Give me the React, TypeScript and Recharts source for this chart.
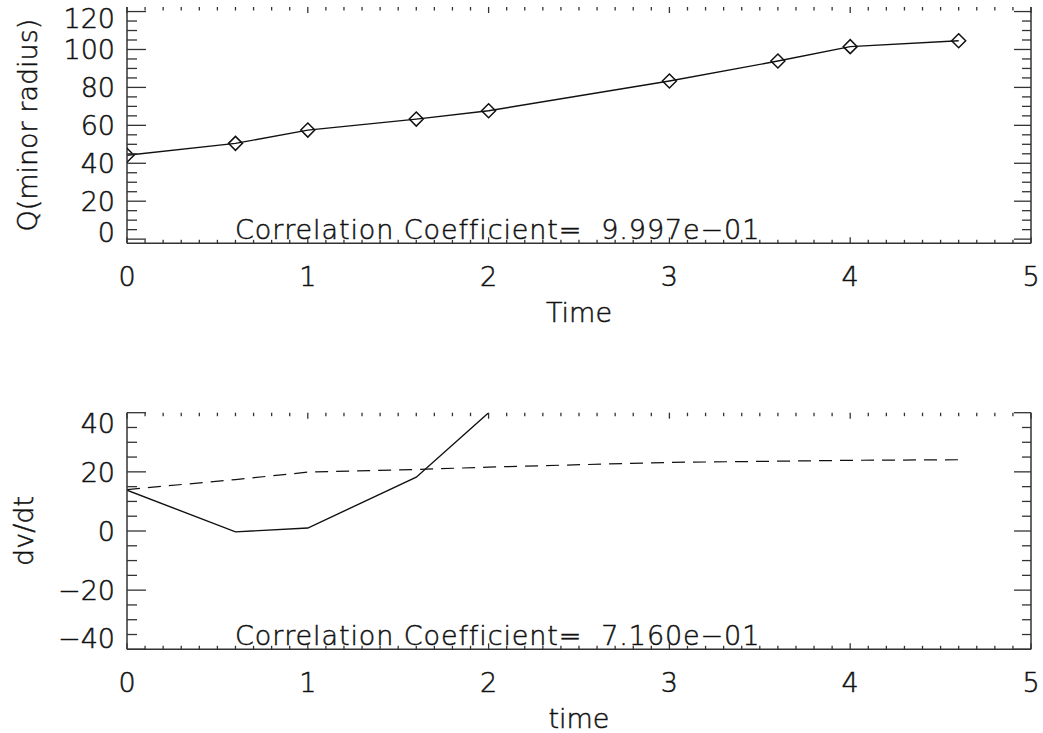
import { LineChart, Line, XAxis, YAxis } from 'recharts';

// sample times and the fitted minor-radius Q
const time = [0, 0.6, 1.0, 1.6, 2.0, 3.0, 3.6, 4.0, 4.6];
const qMinor = [44.2, 50.5, 57.5, 63.3, 67.7, 83.4, 93.9, 101.5, 104.6];
// dv/dt from finite differences (only the part that stays in range) and the smooth fit
const dvdt = [13.8, -0.3, 1.0, 18.2, 40];
const dvdtFit = [14.0, 17.4, 19.9, 20.8, 21.6, 23.2, 23.6, 23.9, 24.1];

const xTicks = Array.from({ length: 51 }, (_, i) => i / 10);
const qTicks = Array.from({ length: 25 }, (_, i) => i * 5);
const dvTicks = Array.from({ length: 17 }, (_, i) => -40 + i * 5);

const corrTop = 'Correlation Coefficient=  9.997e\u221201';
const corrBottom = 'Correlation Coefficient=  7.160e\u221201';

const W = 1043;
const LEFT = 127;
const RIGHT = 12;
const INK = '#111';
const AXIS = '#333';
const FONT = '"DejaVu Sans", sans-serif';
const FS = 27;

const rows = time.map((t, i) => ({
  t,
  q: qMinor[i],
  fit: dvdtFit[i],
  dv: i < dvdt.length ? dvdt[i] : null,
}));

const isMajor = (v: number, step: number) => Math.abs(v / step - Math.round(v / step)) < 1e-6;
const fmt = (v: number) => (v < 0 ? '\u2212' + Math.abs(v) : String(Math.round(v)));

const textStyle = {
  fontFamily: FONT,
  fontSize: FS,
  fontWeight: 200,
  fill: INK,
  stroke: INK,
  strokeWidth: 0.5,
} as const;

// bottom axis tick, with its twin on the top edge of the frame
function xTick(top: number) {
  return (p: any) => {
    const v = p.payload.value;
    const major = isMajor(v, 1);
    const len = major ? 6 : 3.5;
    return (
      <g key={`x-${v}`}>
        <line x1={p.x} x2={p.x} y1={p.y} y2={p.y - len} stroke={AXIS} strokeWidth={1.3} />
        <line x1={p.x} x2={p.x} y1={top} y2={top + len} stroke={AXIS} strokeWidth={1.3} />
        {major && (
          <text x={p.x} y={p.y + 43} textAnchor="middle" style={textStyle}>
            {fmt(v)}
          </text>
        )}
      </g>
    );
  };
}

// left axis tick, with its twin on the right edge of the frame
function yTick(top: number, bottom: number) {
  return (p: any) => {
    const v = p.payload.value;
    const major = isMajor(v, 20);
    const rx = W - RIGHT;
    // keep edge labels inside the frame
    const ly = Math.min(Math.max(p.y, top + 11), bottom - 11);
    return (
      <g key={`y-${v}`}>
        <line x1={p.x} x2={p.x + (major ? 19 : 10)} y1={p.y} y2={p.y} stroke={AXIS} strokeWidth={1.3} />
        <line x1={rx} x2={rx - (major ? 17 : 9)} y1={p.y} y2={p.y} stroke={AXIS} strokeWidth={1.3} />
        {major && (
          <text x={p.x - 12} y={ly} dy="0.36em" textAnchor="end" style={textStyle}>
            {fmt(v)}
          </text>
        )}
      </g>
    );
  };
}

const diamond = (p: any) => {
  const { cx, cy, index } = p;
  if (cx == null || cy == null) return <g key={index} />;
  const r = 7;
  return (
    <path
      key={index}
      d={`M${cx},${cy - r}L${cx + r},${cy}L${cx},${cy + r}L${cx - r},${cy}Z`}
      fill="none"
      stroke={INK}
      strokeWidth={1.5}
    />
  );
};

function xTitle(title: string, corr: string) {
  return ({ viewBox }: any) => (
    <g>
      <text x={viewBox.x + viewBox.width / 2} y={viewBox.y + 79} textAnchor="middle" style={textStyle}>
        {title}
      </text>
      <text x={235} y={viewBox.y - 4} style={{ ...textStyle, whiteSpace: 'pre', letterSpacing: 0.9 }}>
        {corr}
      </text>
    </g>
  );
}

function yTitle(title: string, baseX: number) {
  return ({ viewBox }: any) => {
    const cy = viewBox.y + viewBox.height / 2;
    return (
      <text
        transform={`translate(${baseX},${cy}) rotate(-90)`}
        textAnchor="middle"
        style={textStyle}
      >
        {title}
      </text>
    );
  };
}

function Panel(props: {
  height: number;
  top: number;
  bottomAxis: number;
  domain: [number, number];
  yTicks: number[];
  yLabel: string;
  yLabelX: number;
  xLabel: string;
  corr: string;
  children: any;
}) {
  const { height, top, bottomAxis, domain, yTicks, yLabel, yLabelX, xLabel, corr, children } = props;
  const plotBottom = height - bottomAxis;
  return (
    <LineChart
      width={W}
      height={height}
      data={rows}
      margin={{ top, right: 0, bottom: 0, left: 0 }}
    >
      <XAxis
        xAxisId="b"
        type="number"
        dataKey="t"
        domain={[0, 5]}
        allowDataOverflow
        ticks={xTicks}
        interval={0}
        height={bottomAxis}
        tickSize={0}
        tickMargin={0}
        tickLine={false}
        axisLine={{ stroke: AXIS, strokeWidth: 1.5 }}
        tick={xTick(top)}
        label={{ content: xTitle(xLabel, corr) }}
      />
      <XAxis
        xAxisId="t"
        orientation="top"
        type="number"
        dataKey="t"
        domain={[0, 5]}
        height={0}
        tick={false}
        tickLine={false}
        axisLine={{ stroke: AXIS, strokeWidth: 1.5 }}
      />
      <YAxis
        yAxisId="l"
        type="number"
        domain={domain}
        allowDataOverflow
        ticks={yTicks}
        interval={0}
        width={LEFT}
        tickSize={0}
        tickMargin={0}
        tickLine={false}
        axisLine={{ stroke: AXIS, strokeWidth: 1.5 }}
        tick={yTick(top, plotBottom)}
        label={{ content: yTitle(yLabel, yLabelX) }}
      />
      <YAxis
        yAxisId="r"
        orientation="right"
        type="number"
        domain={domain}
        width={RIGHT}
        tick={false}
        tickLine={false}
        axisLine={{ stroke: AXIS, strokeWidth: 1.5 }}
      />
      {children}
    </LineChart>
  );
}

export default function App() {
  return (
    <div
      style={{
        position: 'absolute',
        left: 0,
        top: 0,
        width: W,
        height: 733,
        background: '#fff',
      }}
    >
      <Panel
        height={340}
        top={7}
        bottomAxis={96.7}
        domain={[-2.2, 122.4]}
        yTicks={qTicks}
        yLabel="Q(minor radius)"
        yLabelX={37}
        xLabel="Time"
        corr={corrTop}
      >
        <Line
          xAxisId="b"
          yAxisId="l"
          dataKey="q"
          type="linear"
          stroke={INK}
          strokeWidth={1.4}
          dot={diamond}
          isAnimationActive={false}
        />
      </Panel>
      <div style={{ position: 'absolute', left: 0, top: 340 }}>
        <Panel
          height={393}
          top={72.7}
          bottomAxis={83.7}
          domain={[-40, 40]}
          yTicks={dvTicks}
          yLabel="dv/dt"
          yLabelX={33}
          xLabel="time"
          corr={corrBottom}
        >
          <Line
            xAxisId="b"
            yAxisId="l"
            dataKey="dv"
            type="linear"
            stroke={INK}
            strokeWidth={1.4}
            dot={false}
            isAnimationActive={false}
          />
          <Line
            xAxisId="b"
            yAxisId="l"
            dataKey="fit"
            type="linear"
            stroke={INK}
            strokeWidth={1.2}
            strokeDasharray="13 8"
            dot={false}
            isAnimationActive={false}
          />
        </Panel>
      </div>
    </div>
  );
}
